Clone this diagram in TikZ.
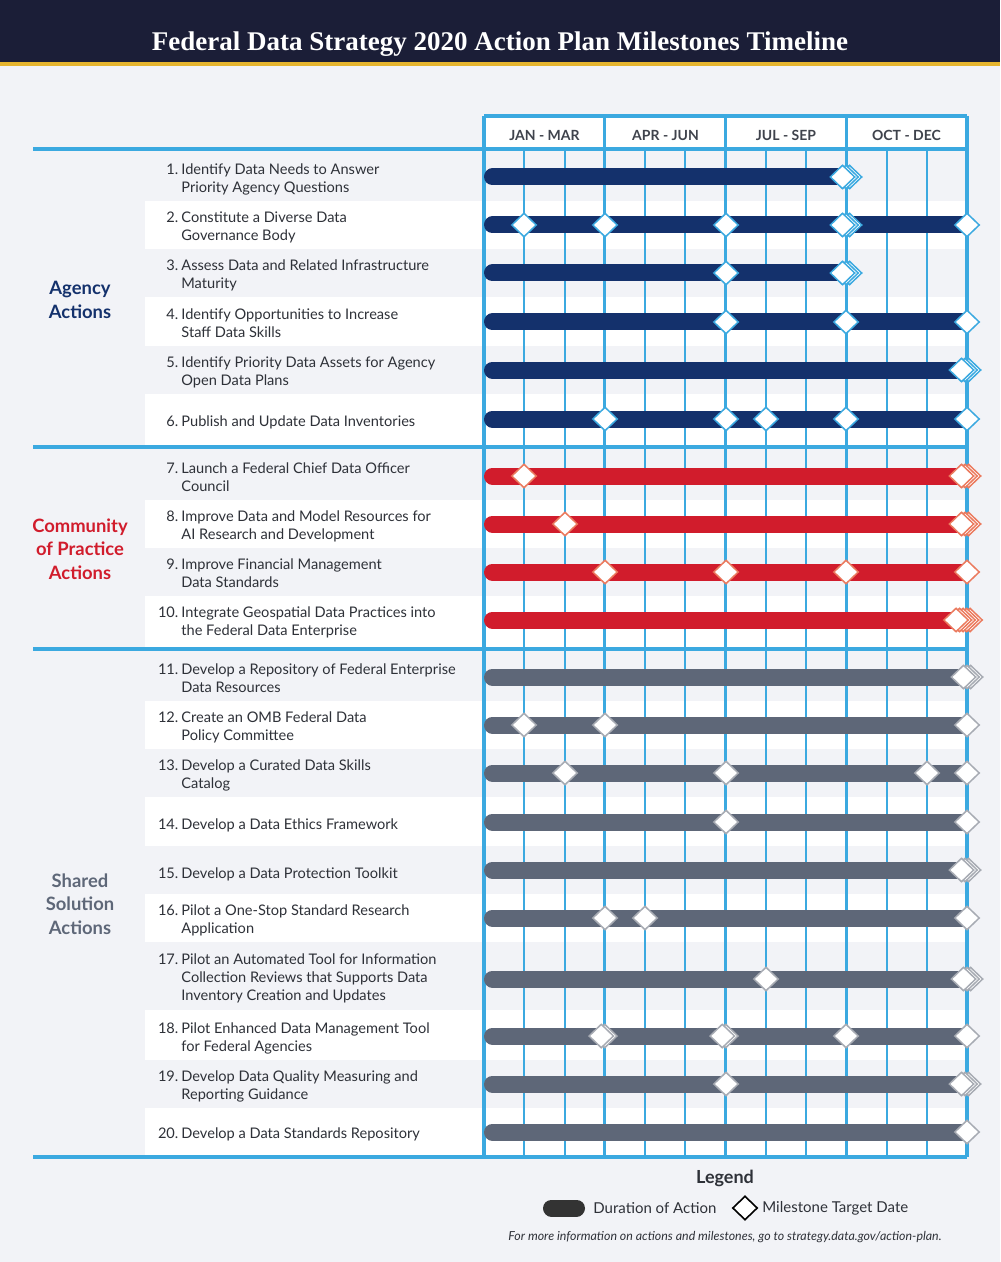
\documentclass[tikz,border=0pt]{standalone}
\usepackage{fontspec}
\setmainfont{Lato}
\newfontfamily\titlefont{Liberation Serif}
\usetikzlibrary{shapes.geometric, positioning}

\definecolor{navy}{HTML}{14316C}
\definecolor{fedred}{HTML}{D11C2C}
\definecolor{slate}{HTML}{5E6778}
\definecolor{gridblue}{HTML}{3BA9E0}
\definecolor{salmon}{HTML}{EB7A5E}
\definecolor{msgrey}{HTML}{A7ABB3}
\definecolor{pagegrey}{HTML}{F2F3F7}
\definecolor{titlebg}{HTML}{1B1E37}
\definecolor{gold}{HTML}{E6B52F}
\definecolor{headtext}{HTML}{3F434C}
\definecolor{textgrey}{HTML}{2E3138}

% number on the left, wrapped text indented after it
\newcommand{\actionlabel}[2]{\makebox[12pt][r]{#1.}\hspace{1.5pt}\begin{tabular}[t]{@{}l@{}}#2\end{tabular}}

\begin{document}
\begin{tikzpicture}[
        x=0.5pt, y=-0.5pt, % one unit = one pixel of the layout
        every node/.style={inner sep=0pt},
        rowtext/.style={anchor=west, font=\fontsize{7.3}{9}\selectfont, text=textgrey},
        section/.style={align=center, font=\fontsize{9.2}{11.75}\selectfont\bfseries},
        quarter/.style={font=\fontsize{7}{8}\selectfont\bfseries, text=headtext},
        bar/.style={line width=8.5pt, line cap=round},
        ms/.style={shape=diamond, draw, fill=white, minimum width=12.5pt, minimum height=12pt, line width=0.75pt},
        month/.style={gridblue, line width=1pt},
        qline/.style={gridblue, line width=1.6pt}
      ]
      \useasboundingbox (0,0) rectangle (1000,1262);

      % Background and title
      \fill[pagegrey] (0,0) rectangle (1000,1262);
      \fill[titlebg] (0,0) rectangle (1000,62);
      \fill[gold] (0,62) rectangle (1000,66);
      \node[text=white, font=\titlefont\bfseries\fontsize{13.5}{15}\selectfont] (title) at (500,44)
        {Federal Data Strategy 2020 Action Plan Milestones Timeline};

      % Rows: white bands and labels
      \foreach \r/\yc/\yt/\yb/\lab in {
          1/177/149/201/{Identify Data Needs to Answer\\Priority Agency Questions},
          2/225/201/249/{Constitute a Diverse Data\\Governance Body},
          3/273/249/297/{Assess Data and Related Infrastructure\\Maturity},
          4/322/297/346/{Identify Opportunities to Increase\\Staff Data Skills},
          5/370/346/394/{Identify Priority Data Assets for Agency\\Open Data Plans},
          6/420/394/447/{Publish and Update Data Inventories},
          7/476/447/500/{Launch a Federal Chief Data Officer\\Council},
          8/524/500/548/{Improve Data and Model Resources for\\AI Research and Development},
          9/572/548/596/{Improve Financial Management\\Data Standards},
          10/620/596/649/{Integrate Geospatial Data Practices into\\the Federal Data Enterprise},
          11/677/649/701/{Develop a Repository of Federal Enterprise\\Data Resources},
          12/725/701/749/{Create an OMB Federal Data\\Policy Committee},
          13/773/749/797/{Develop a Curated Data Skills\\Catalog},
          14/823/797/846/{Develop a Data Ethics Framework},
          15/872/846/894/{Develop a Data Protection Toolkit},
          16/918/894/942/{Pilot a One-Stop Standard Research\\Application},
          17/976/942/1010/{Pilot an Automated Tool for Information\\Collection Reviews that Supports Data\\Inventory Creation and Updates},
          18/1036/1010/1060/{Pilot Enhanced Data Management Tool\\for Federal Agencies},
          19/1084/1060/1108/{Develop Data Quality Measuring and\\Reporting Guidance},
          20/1132/1108/1157/{Develop a Data Standards Repository}}{
        \ifodd\r\else \fill[white] (145,\yt) rectangle (967,\yb); \fi
        \node[rowtext] (lab\r) at (154,\yc+2.5) {\actionlabel{\r}{\lab}};
      }

      % Grid
      \fill[white] (484,116) rectangle (967,149);
      \foreach \k in {1,2,4,5,7,8,10,11}
        \draw[month] ({484+40.25*\k},149) -- ({484+40.25*\k},1157);
      \foreach \k in {0,3,6,9,12}
        \draw[qline] ({484+40.25*\k},116) -- ({484+40.25*\k},1157);
      \draw[qline] (484,116) -- (967,116);
      \foreach \y in {149,447,649,1157}
        \draw[qline] (33,\y) -- (967,\y);

      % Quarter headings
      \node[quarter] (q1) at (544.5,135) {JAN - MAR};
      \node[quarter] (q2) at (665.5,135) {APR - JUN};
      \node[quarter] (q3) at (786,135) {JUL - SEP};
      \node[quarter] (q4) at (906.5,135) {OCT - DEC};

      % Section names
      \node[section, text=navy] (agency) at (80,300) {Agency\\Actions};
      \node[section, text=fedred] (practice) at (80,549) {Community\\of Practice\\Actions};
      \node[section, text=slate] (shared) at (80,904) {Shared\\Solution\\Actions};

      % Bars and milestones (x of milestone / number of stacked copies)
      \foreach \r/\yc/\xend/\bc/\ec/\ms in {
          1/177/846/navy/gridblue/{846/3},
          2/225/967/navy/gridblue/{524/1,605/1,726/1,846/3,967/1},
          3/273/846/navy/gridblue/{726/1,846/3},
          4/322/967/navy/gridblue/{726/1,846/1,967/1},
          5/370/967/navy/gridblue/{965/3},
          6/419/967/navy/gridblue/{605/1,726/1,766/1,846/1,967/1},
          7/476/967/fedred/salmon/{524/1,965/3},
          8/524/967/fedred/salmon/{565/1,965/3},
          9/572/967/fedred/salmon/{605/1,726/1,846/1,967/1},
          10/620/967/fedred/salmon/{963/5},
          11/677/967/slate/msgrey/{967/3},
          12/725/967/slate/msgrey/{524/1,605/1,967/1},
          13/773/967/slate/msgrey/{565/1,726/1,927/1,967/1},
          14/822/967/slate/msgrey/{726/1,967/1},
          15/870/967/slate/msgrey/{965/3},
          16/918/967/slate/msgrey/{605/1,645/1,967/1},
          17/979/967/slate/msgrey/{766/1,967/3},
          18/1036/967/slate/msgrey/{603/2,724/2,846/1,967/1},
          19/1084/967/slate/msgrey/{726/1,965/3},
          20/1132/967/slate/msgrey/{967/1}}{
        \draw[bar, \bc] (492.5,\yc) -- (\xend,\yc);
        \foreach \mx/\mc in \ms
          \foreach \k in {\mc,...,1}
            \node[ms, draw=\ec] (ms\r-\mx-\k) at ({\mx+(\k-(\mc+1)/2)*3.5},\yc) {};
      }

      % Legend
      \node[font=\fontsize{9}{10}\selectfont\bfseries, text=textgrey] (legend) at (725,1178) {Legend};
      \coordinate (pillL) at (551.5,1208);
      \coordinate (pillR) at (576.5,1208);
      \draw[bar, black!80] (pillL) -- (pillR);
      \node[rowtext, font=\fontsize{7.5}{9}\selectfont] (durtext) at (593,1208) {Duration of Action};
      \node[ms, draw=black, line width=0.8pt] (legdiam) at (745,1208) {};
      \node[rowtext, font=\fontsize{7.5}{9}\selectfont] (mstext) at (762,1208) {Milestone Target Date};
      \node[font=\fontsize{6.2}{7}\selectfont\itshape, text=textgrey] (note) at (725,1237)
        {For more information on actions and milestones, go to strategy.data.gov/action-plan.};

    \end{tikzpicture}
\end{document}
